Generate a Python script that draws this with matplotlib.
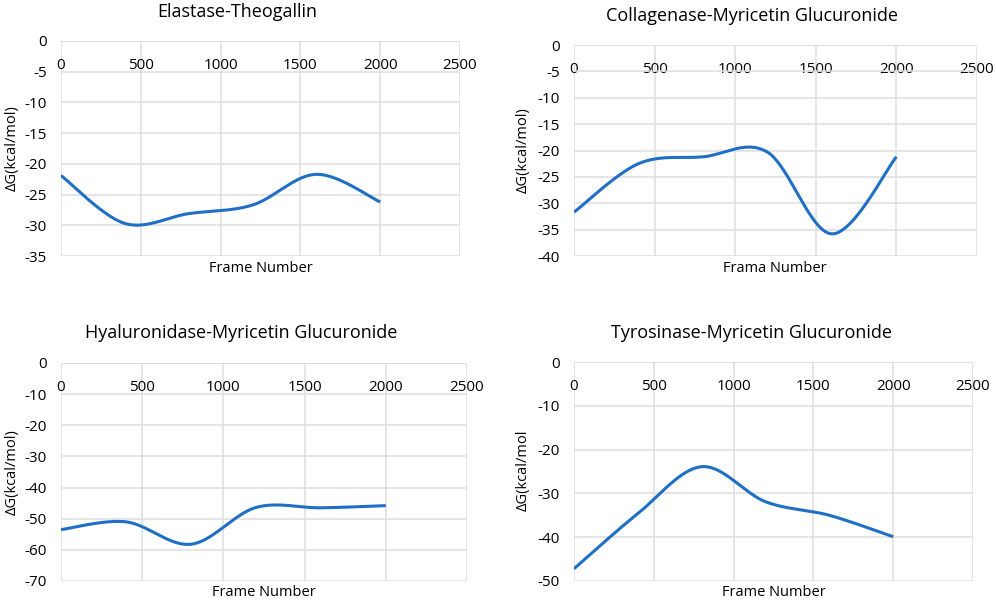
import numpy as np
import matplotlib
matplotlib.use("Agg")
import matplotlib.pyplot as plt

plt.rcParams['font.family'] = ['Open Sans', 'DejaVu Sans']
plt.rcParams['axes.unicode_minus'] = False

frames = [0, 400, 800, 1200, 1600, 2000]
elastase = [-21.9, -29.7, -28.1, -26.7, -21.7, -26.2]
collagenase = [-31.7, -22.5, -21.2, -20.3, -35.8, -21.2]
hyaluronidase = [-53.5, -51.0, -58.2, -46.4, -46.5, -45.8]
tyrosinase = [-47.2, -34.6, -23.9, -31.9, -35.0, -39.9]

titles = ["Elastase-Theogallin", "Collagenase-Myricetin Glucuronide",
          "Hyaluronidase-Myricetin Glucuronide", "Tyrosinase-Myricetin Glucuronide"]
xlabels = ["Frame Number", "Frama Number", "Frame Number", "Frame Number"]
ylabels = ["ΔG(kcal/mol)", "ΔG(kcal/mol)", "ΔG(kcal/mol)", "ΔG(kcal/mol"]
xticks = [0, 500, 1000, 1500, 2000, 2500]
ymins = [-35, -40, -70, -50]
ysteps = [5, 5, 10, 10]

W, H = 996, 604
fig = plt.figure(figsize=(W / 100, H / 100), dpi=100)

# axes boxes in pixels: left, right, top, bottom
boxes = [(61, 460, 41, 256), (574, 977, 45, 256), (61, 467, 363, 581), (574, 973, 362, 581)]
title_pos = [(237, 12), (752, 16), (241, 333), (751, 333)]
xlab_pos = [(261, 269), (775, 269), (264, 593), (774, 593)]
ylab_pos = [(12, 148), (523, 150), (12, 472), (523, 470)]
series = [elastase, collagenase, hyaluronidase, tyrosinase]


def smooth(xs, ys, n=40):
    xs = np.asarray(xs, float)
    ys = np.asarray(ys, float)
    px = np.concatenate([[xs[0]], xs, [xs[-1]]])
    py = np.concatenate([[ys[0]], ys, [ys[-1]]])
    ox, oy = [], []
    t = np.linspace(0, 1, n)
    for i in range(1, len(px) - 2):
        x0, x1, x2, x3 = px[i - 1], px[i], px[i + 1], px[i + 2]
        y0, y1, y2, y3 = py[i - 1], py[i], py[i + 1], py[i + 2]
        c1x, c1y = x1 + (x2 - x0) / 6, y1 + (y2 - y0) / 6
        c2x, c2y = x2 - (x3 - x1) / 6, y2 - (y3 - y1) / 6
        bx = (1 - t) ** 3 * x1 + 3 * (1 - t) ** 2 * t * c1x + 3 * (1 - t) * t ** 2 * c2x + t ** 3 * x2
        by = (1 - t) ** 3 * y1 + 3 * (1 - t) ** 2 * t * c1y + 3 * (1 - t) * t ** 2 * c2y + t ** 3 * y2
        ox.extend(bx)
        oy.extend(by)
    return np.array(ox), np.array(oy)


grid_c = '#dedede'
for k in range(4):
    l, r, t, b = boxes[k]
    ax = fig.add_axes([l / W, (H - b) / H, (r - l) / W, (b - t) / H])
    sx, sy = smooth(frames, series[k])
    ax.plot(sx, sy, color='#1f6fc6', lw=2.2, solid_capstyle='butt', zorder=3)
    ax.set_xlim(0, 2500)
    ax.set_ylim(ymins[k], 0)
    ax.set_xticks(xticks)
    ax.set_yticks(np.arange(ymins[k], 1, ysteps[k]))
    for s in ax.spines.values():
        s.set_visible(False)
    ax.grid(True, color=grid_c, lw=1.1, zorder=0)
    ax.axhline(0, color=grid_c, lw=1.3, zorder=1)
    ax.tick_params(axis='y', length=0, pad=10, labelsize=11, labelcolor='black')
    ax.tick_params(axis='x', length=0, top=False, bottom=False, labeltop=True,
                   labelbottom=False, pad=-23, labelsize=11, labelcolor='black')
    fig.text(title_pos[k][0] / W, 1 - title_pos[k][1] / H, titles[k], ha='center', va='center',
             fontsize=13, color='black')
    fig.text(xlab_pos[k][0] / W, 1 - xlab_pos[k][1] / H, xlabels[k], ha='center', va='center',
             fontsize=10.5, color='black')
    fig.text(ylab_pos[k][0] / W, 1 - ylab_pos[k][1] / H, ylabels[k], ha='center', va='center',
             fontsize=10.5, color='black', rotation=90)

fig.savefig('out.png', dpi=100, facecolor='white')
